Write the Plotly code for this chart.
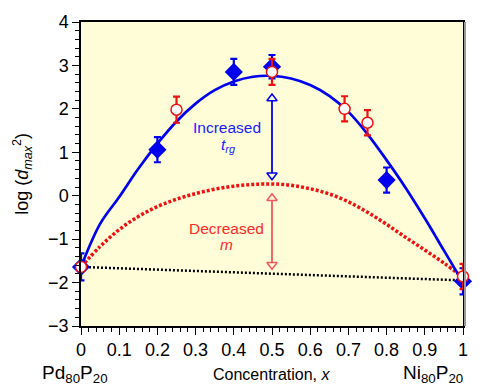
import plotly.graph_objects as go

# Measured data (blue filled diamonds, red open circles)
blue_x = [0.0, 0.2, 0.4, 0.5, 0.8, 1.0]
blue_y = [-1.64, 1.06, 2.85, 2.97, 0.36, -1.97]
blue_err = [0.31, 0.29, 0.30, 0.27, 0.29, 0.30]

red_x = [0.0, 0.25, 0.5, 0.69, 0.75, 1.0]
red_y = [-1.64, 1.98, 2.85, 2.0, 1.68, -1.86]
red_err = [0.0, 0.30, 0.30, 0.29, 0.29, 0.29]

# Curves
curve_x = [0.0, 0.05, 0.1, 0.15, 0.2, 0.25, 0.3, 0.35, 0.4, 0.45, 0.5,
           0.55, 0.6, 0.65, 0.7, 0.75, 0.8, 0.85, 0.9, 0.95, 1.0]
blue_curve_y = [-1.64, -0.65, -0.03, 0.62, 1.20, 1.71, 2.12, 2.43, 2.63, 2.74, 2.76,
                2.70, 2.55, 2.30, 1.93, 1.42, 0.82, 0.18, -0.52, -1.26, -2.0]
red_curve_y = [-1.64, -1.17, -0.78, -0.48, -0.25, -0.08, 0.05, 0.15, 0.22, 0.26, 0.27,
               0.24, 0.16, 0.04, -0.14, -0.38, -0.66, -0.96, -1.25, -1.55, -1.88]

base_x = [0.0, 1.0]
base_y = [-1.64, -1.95]

# Arrows (x, top tip, bottom tip)
blue_arrow = [0.5, 2.24, 0.47]
red_arrow = [0.5, -0.06, -1.59]

x_ticks = [0, 0.1, 0.2, 0.3, 0.4, 0.5, 0.6, 0.7, 0.8, 0.9, 1]
x_tick_labels = ["0", "0.1", "0.2", "0.3", "0.4", "0.5", "0.6", "0.7", "0.8", "0.9", "1"]
y_ticks = [-3, -2, -1, 0, 1, 2, 3, 4]

BLUE = "#0000ee"
RED = "#ee1111"
PINK = "#f05a5a"
BG = "#fefdd8"
FONT = "Liberation Sans, Arial, sans-serif"

fig = go.Figure()

fig.add_trace(go.Scatter(x=base_x, y=base_y, mode="lines",
                         line=dict(color="black", width=2.5, dash="2px,2px"),
                         cliponaxis=False, hoverinfo="skip"))
fig.add_trace(go.Scatter(x=curve_x, y=red_curve_y, mode="lines",
                         line=dict(color=RED, width=3.5, shape="spline", smoothing=1, dash="3px,2px"),
                         cliponaxis=False))
fig.add_trace(go.Scatter(x=curve_x, y=blue_curve_y, mode="lines",
                         line=dict(color=BLUE, width=2.7, shape="spline", smoothing=1),
                         cliponaxis=False))

# arrows as lines with open triangle heads
for arr, col in [(blue_arrow, BLUE), (red_arrow, PINK)]:
    ax, top, bot = arr
    fig.add_trace(go.Scatter(x=[ax, ax], y=[top, bot], mode="lines",
                             line=dict(color=col, width=1.8), cliponaxis=False))
    fig.add_trace(go.Scatter(x=[ax, ax], y=[top, bot], mode="markers",
                             marker=dict(symbol=["triangle-up", "triangle-down"], size=9,
                                         color=BG, line=dict(color=col, width=1.5)),
                             cliponaxis=False))

fig.add_trace(go.Scatter(x=blue_x, y=blue_y, mode="markers",
                         marker=dict(symbol="diamond", size=14, color=BLUE),
                         error_y=dict(type="data", array=blue_err, color=BLUE, thickness=2.2, width=3.5),
                         cliponaxis=False))
fig.add_trace(go.Scatter(x=red_x, y=red_y, mode="markers",
                         marker=dict(symbol="circle", size=11, color="white",
                                     line=dict(color=RED, width=1.5)),
                         error_y=dict(type="data", array=red_err, color=RED, thickness=2.2, width=3.5),
                         cliponaxis=False))

annotations = [
    dict(x=0.381, y=1.58, text="Increased", font=dict(color="#1a1aff", size=15.5, family=FONT)),
    dict(x=0.385, y=1.16, text="<i>t<sub>rg</sub></i>", font=dict(color="#1a1aff", size=15.5, family=FONT)),
    dict(x=0.381, y=-0.75, text="Decreased", font=dict(color="#ff2a2a", size=15.5, family=FONT)),
    dict(x=0.381, y=-1.13, text="<i>m</i>", font=dict(color="#ff2a2a", size=15.5, family=FONT)),
]
for a in annotations:
    a.update(xref="x", yref="y", showarrow=False)

annotations += [
    dict(xref="paper", yref="paper", x=0.5, y=-0.16, yanchor="middle",
         text="Concentration, <i>x</i>", showarrow=False,
         font=dict(size=16, family=FONT, color="black")),
    dict(xref="paper", yref="paper", x=-0.107, y=-0.158, yanchor="middle",
         text="Pd<sub>80</sub>P<sub>20</sub>", showarrow=False,
         font=dict(size=19, family=FONT, color="black")),
    dict(xref="paper", yref="paper", x=1.005, y=-0.158, yanchor="middle",
         text="Ni<sub>80</sub>P<sub>20</sub>", showarrow=False,
         font=dict(size=19, family=FONT, color="black")),
    dict(xref="paper", yref="paper", x=-0.155, y=0.5, xanchor="center", yanchor="middle",
         textangle=-90, text="log (<i>d</i><sub><i>max</i></sub><sup>2</sup>)", showarrow=False,
         font=dict(size=18, family=FONT, color="black")),
]

# subtle grey shadow just outside the right edge of the frame
shapes = [
    dict(type="line", xref="paper", yref="paper", xsizemode="pixel", xanchor=1,
         x0=2, x1=2, y0=0, y1=1, line=dict(color="#9a9a9a", width=2), layer="above"),
]

fig.update_layout(
    width=503, height=386,
    margin=dict(l=81, r=40, t=20, b=60),
    paper_bgcolor="white",
    plot_bgcolor=BG,
    showlegend=False,
    font=dict(family=FONT, color="black"),
    annotations=annotations,
    shapes=shapes,
    xaxis=dict(range=[0, 1], tickvals=x_ticks, ticktext=x_tick_labels,
               ticks="outside", ticklen=7, tickwidth=1.3, tickcolor="black",
               minor=dict(dtick=0.02, ticks="outside", ticklen=4, tickwidth=1, tickcolor="black"),
               showgrid=False, zeroline=False, showline=True, linecolor="black", linewidth=1.5,
               mirror=True, tickfont=dict(size=18, family=FONT)),
    yaxis=dict(range=[-3, 4], tickvals=y_ticks,
               ticks="outside", ticklen=7, tickwidth=1.3, tickcolor="black",
               minor=dict(dtick=0.2, ticks="outside", ticklen=4, tickwidth=1, tickcolor="black"),
               showgrid=False, zeroline=False, showline=True, linecolor="black", linewidth=1.5,
               mirror=True, tickfont=dict(size=18, family=FONT)),
)

fig.write_html("out.html", config={"displayModeBar": False},
               post_script="document.body.style.margin='0';")
